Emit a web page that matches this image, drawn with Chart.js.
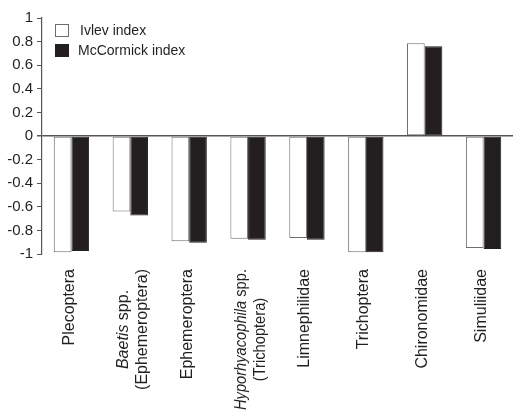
<!DOCTYPE html>
<html>
<head>
<meta charset="utf-8">
<script src="https://cdn.jsdelivr.net/npm/chart.js@4"></script>
<style>
  html, body { margin: 0; padding: 0; background: #fff; }
  #wrap { width: 514px; height: 419px; }
</style>
</head>
<body>
<div id="wrap"><canvas id="selectChart"></canvas></div>
<script>
const categories = [
    'Plecoptera', ['Baetis spp.', '(Ephemeroptera)'], 'Ephemeroptera',
    ['Hyporhyacophila spp.', '(Trichoptera)'], 'Limnephilidae',
    'Trichoptera', 'Chironomidae', 'Simuliidae'
];
const italicWords = ['Baetis', 'Hyporhyacophila'];
const ivlev = [-0.985, -0.64, -0.893, -0.87, -0.865, -0.985, 0.786, -0.95];
const mccormick = [-0.975, -0.673, -0.905, -0.88, -0.88, -0.985, 0.76, -0.957];
const yTicks = [1, 0.8, 0.6, 0.4, 0.2, 0, -0.2, -0.4, -0.6, -0.8, -1];

const FONT = '"Liberation Sans", Arial, sans-serif';
const INK = '#231f20';

// legend drawn inside the plot, top left
const insideLegend = {
    id: 'insideLegend',
    afterDraw(chart) {
        const c = chart.ctx;
        c.save();
        c.font = '14px ' + FONT;
        c.textBaseline = 'middle';
        chart.data.datasets.forEach((ds, i) => {
            const y = 24 + i * 20;
            c.fillStyle = ds.backgroundColor;
            c.fillRect(55, y, 14, 13);
            c.strokeStyle = ds.borderColor;
            c.lineWidth = 1;
            c.strokeRect(55.5, y + 0.5, 13, 12);
            c.fillStyle = INK;
            c.fillText(ds.label, i === 0 ? 80 : 78, y + 7);
        });
        c.restore();
    }
};

// rotated category labels with italic genus names
const rotatedLabels = {
    id: 'rotatedLabels',
    afterDraw(chart) {
        const c = chart.ctx;
        const xs = chart.scales.x;
        const top = 269;
        const lh = 19;
        const maxLen = 141;
        c.save();
        c.fillStyle = INK;
        c.textBaseline = 'middle';
        const fn = it => (it ? 'italic ' : '') + '16px ' + FONT;
        categories.forEach((cat, idx) => {
            const lines = Array.isArray(cat) ? cat : [cat];
            const parts = lines.map(line => {
                const w = italicWords.find(k => line.startsWith(k));
                return w ? [[w, true], [line.slice(w.length), false]] : [[line, false]];
            });
            const widths = parts.map(p => p.reduce((s, [t, it]) => {
                c.font = fn(it);
                return s + c.measureText(t).width;
            }, 0));
            const W = Math.max(...widths);
            const k = W > maxLen ? maxLen / W : 1;
            const cx = xs.getPixelForValue(idx) + (lines.length > 1 ? 3 : -2);
            parts.forEach((p, li) => {
                c.save();
                c.translate(cx + (li - (lines.length - 1) / 2) * lh, top);
                c.rotate(-Math.PI / 2);
                c.scale(k, 1);
                let rx = -W / 2 - widths[li] / 2;
                p.forEach(([t, it]) => {
                    c.font = fn(it);
                    c.fillText(t, rx, 0);
                    rx += c.measureText(t).width;
                });
                c.restore();
            });
        });
        c.restore();
    }
};

const ctx = document.getElementById('selectChart').getContext('2d');
new Chart(ctx, {
    type: 'bar',
    data: {
        labels: categories,
        datasets: [{
            label: 'Ivlev index',
            data: ivlev,
            backgroundColor: '#ffffff',
            borderColor: '#6d6d6d',
            borderWidth: 1,
            borderSkipped: false
        }, {
            label: 'McCormick index',
            data: mccormick,
            backgroundColor: INK,
            borderColor: INK,
            borderWidth: 1,
            borderSkipped: false
        }]
    },
    options: {
        responsive: true,
        maintainAspectRatio: false,
        animation: false,
        datasets: {
            bar: { categoryPercentage: 0.6, barPercentage: 1 }
        },
        layout: { padding: { top: 18, right: 1, left: 0, bottom: 0 } },
        plugins: {
            legend: { display: false },
            tooltip: { enabled: false }
        },
        scales: {
            x: {
                grid: { display: false },
                border: { display: false },
                ticks: { display: false },
                afterFit(scale) { scale.height = 165; }
            },
            y: {
                min: -1,
                max: 1,
                afterFit(scale) { scale.width = 42; },
                afterBuildTicks(scale) {
                    scale.ticks = yTicks.map(v => ({ value: v }));
                },
                border: { display: true, color: '#555', width: 1.2 },
                grid: {
                    drawOnChartArea: true,
                    color: c => (c.tick && c.tick.value === 0 ? '#555' : 'rgba(0,0,0,0)'),
                    lineWidth: c => (c.tick && c.tick.value === 0 ? 1.5 : 1),
                    tickColor: '#555',
                    tickLength: 5
                },
                ticks: {
                    color: INK,
                    font: { family: FONT, size: 15 },
                    padding: 4,
                    callback: v => String(Math.round(v * 10) / 10)
                }
            }
        }
    },
    plugins: [insideLegend, rotatedLabels]
});
</script>
</body>
</html>
